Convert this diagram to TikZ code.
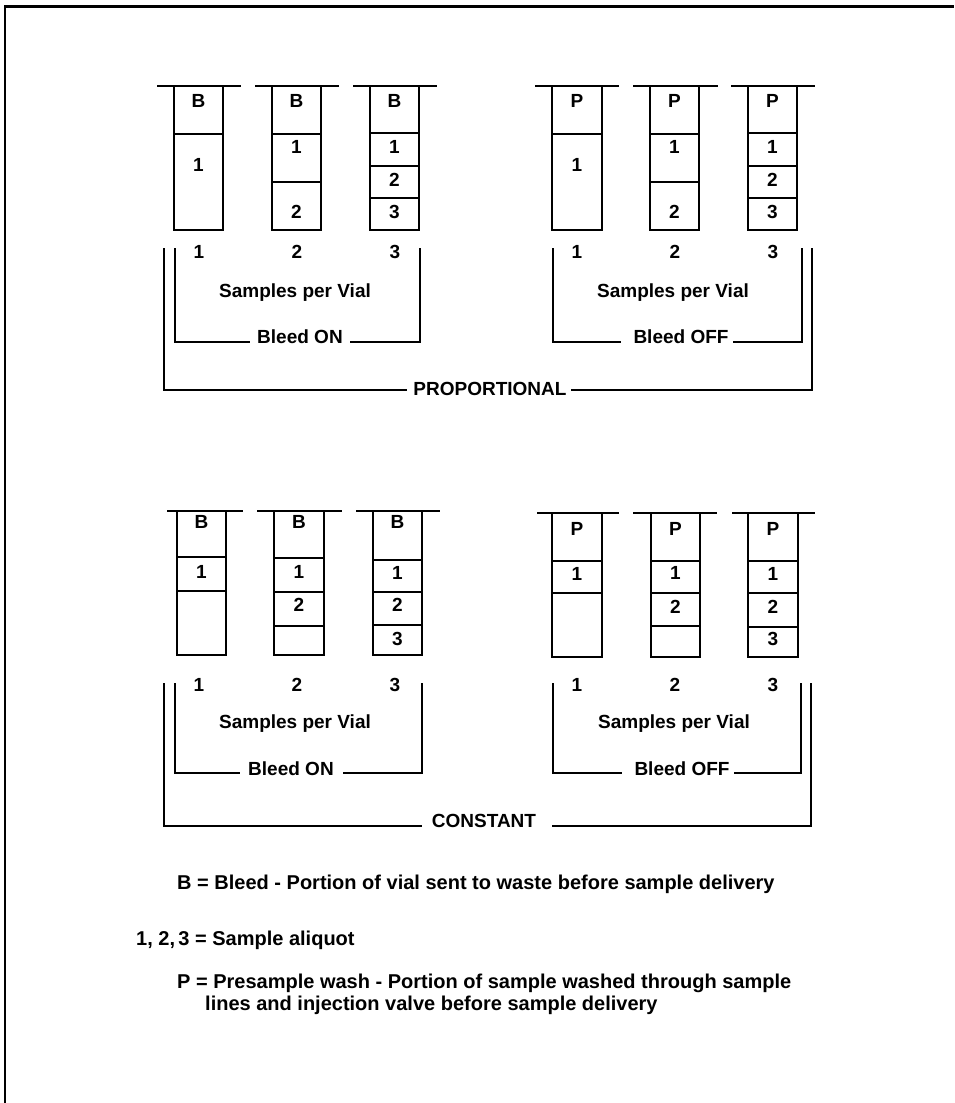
\documentclass[tikz,border=0pt]{standalone}
\usepackage{fontspec}
\setmainfont{Liberation Sans}
\usetikzlibrary{calc}
\newcommand\myvial[7]{%
  \draw[rimline] (#3,#5) -- (#4,#5);
  \draw[vialline] (#1,#5) -- (#1,#6) -- (#2,#6) -- (#2,#5);
  \foreach \d in {#7} {\draw[divline] (#1,\d) -- (#2,\d);}
}
\begin{document}
\begin{tikzpicture}[x=1pt,y=-1pt,
  lbl/.style={font=\fontsize{19}{23}\selectfont\bfseries, inner sep=0pt},
  leg/.style={font=\fontsize{20}{24}\selectfont\bfseries, inner sep=0pt, anchor=west},
  vialline/.style={line width=1.8pt},
  divline/.style={line width=1.4pt},
  rimline/.style={line width=1.8pt},
  brk/.style={line width=1.8pt},
  frameline/.style={line width=2.6pt}]
\useasboundingbox (0,0) rectangle (954,1103);
\draw[frameline] (5,1103) -- (5,6.5) -- (954,6.5);

% ---------- top left vials ----------
\myvial{174}{223}{157}{241}{86}{230}{134}
\myvial{272}{321}{255}{339}{86}{230}{134,182}
\myvial{370}{419}{353}{437}{86}{230}{133,166,198}
\node[lbl] (tla) at (198.5,101) {B};
\node[lbl] (tla1) at (198.5,165) {1};
\node[lbl] (tlb) at (296.5,101) {B};
\node[lbl] (tlb1) at (296.5,147) {1};
\node[lbl] (tlb2) at (296.5,212) {2};
\node[lbl] (tlc) at (394.5,101) {B};
\node[lbl] (tlc1) at (394.5,147) {1};
\node[lbl] (tlc2) at (394.5,180) {2};
\node[lbl] (tlc3) at (394.5,212) {3};

% ---------- top right vials ----------
\myvial{552}{602}{535}{619}{86}{230}{134}
\myvial{650}{699}{633}{718}{86}{230}{134,182}
\myvial{748}{797}{731}{815}{86}{230}{133,166,198}
\node[lbl] (tra) at (577,101) {P};
\node[lbl] (tra1) at (577,165) {1};
\node[lbl] (trb) at (674.5,101) {P};
\node[lbl] (trb1) at (674.5,147) {1};
\node[lbl] (trb2) at (674.5,212) {2};
\node[lbl] (trc) at (772.5,101) {P};
\node[lbl] (trc1) at (772.5,147) {1};
\node[lbl] (trc2) at (772.5,180) {2};
\node[lbl] (trc3) at (772.5,212) {3};

% numbers top
\node[lbl] (tn1) at (199,252) {1};
\node[lbl] (tn2) at (297,252) {2};
\node[lbl] (tn3) at (395,252) {3};
\node[lbl] (tn4) at (577,252) {1};
\node[lbl] (tn5) at (675,252) {2};
\node[lbl] (tn6) at (773,252) {3};

% brackets top
\node[lbl] (tspl) at (295,293) {Samples per Vial};
\node[lbl] (tspr) at (673,293) {Samples per Vial};
\node[lbl] (tbon) at (300,337) {Bleed ON};
\node[lbl] (tboff) at (681,337) {Bleed OFF};
\node[lbl] (tprop) at (490,389) {PROPORTIONAL};
\coordinate (tilA) at (175,248);
\coordinate (tilB) at (420,248);
\coordinate (tirA) at (553,248);
\coordinate (tirB) at (802,248);
\coordinate (toA) at (164,248);
\coordinate (toB) at (812,248);
\draw[brk] (tilA) |- ($(tbon.west)+(-7,5)$);
\draw[brk] (tilB) |- ($(tbon.east)+(7,5)$);
\draw[brk] (tirA) |- ($(tboff.west)+(-12,5)$);
\draw[brk] (tirB) |- ($(tboff.east)+(4,5)$);
\draw[brk] (toA) |- ($(tprop.west)+(-6,1)$);
\draw[brk] (toB) |- ($(tprop.east)+(4,1)$);

% ---------- bottom left vials ----------
\myvial{177}{226}{167}{243}{511}{655}{557,591}
\myvial{274}{324}{257}{342}{511}{655}{558,592,626}
\myvial{373}{422}{356}{440}{511}{655}{560,592,625}
\node[lbl] (bla) at (201.5,522) {B};
\node[lbl] (bla1) at (201.5,572) {1};
\node[lbl] (blb) at (299,522) {B};
\node[lbl] (blb1) at (299,572) {1};
\node[lbl] (blb2) at (299,605) {2};
\node[lbl] (blc) at (397.5,522) {B};
\node[lbl] (blc1) at (397.5,573) {1};
\node[lbl] (blc2) at (397.5,605) {2};
\node[lbl] (blc3) at (397.5,639) {3};

% ---------- bottom right vials ----------
\myvial{552}{602}{537}{619}{513}{657}{561,593}
\myvial{651}{700}{633}{717}{513}{657}{561,593,626}
\myvial{748}{798}{732}{815}{513}{657}{561,593,627}
\node[lbl] (bra) at (577,529) {P};
\node[lbl] (bra1) at (577,574) {1};
\node[lbl] (brb) at (675.5,529) {P};
\node[lbl] (brb1) at (675.5,573) {1};
\node[lbl] (brb2) at (675.5,607) {2};
\node[lbl] (brc) at (773,529) {P};
\node[lbl] (brc1) at (773,574) {1};
\node[lbl] (brc2) at (773,607) {2};
\node[lbl] (brc3) at (773,639) {3};

% numbers bottom
\node[lbl] (bn1) at (199,685) {1};
\node[lbl] (bn2) at (297,685) {2};
\node[lbl] (bn3) at (395,685) {3};
\node[lbl] (bn4) at (577,685) {1};
\node[lbl] (bn5) at (675,685) {2};
\node[lbl] (bn6) at (773,685) {3};

% brackets bottom
\node[lbl] (bspl) at (295,724) {Samples per Vial};
\node[lbl] (bspr) at (674,724) {Samples per Vial};
\node[lbl] (bbon) at (291,769) {Bleed ON};
\node[lbl] (bboff) at (682,769) {Bleed OFF};
\node[lbl] (bcon) at (484,821) {CONSTANT};
\coordinate (bilA) at (175,683);
\coordinate (bilB) at (422,683);
\coordinate (birA) at (553,683);
\coordinate (birB) at (801,683);
\coordinate (boA) at (164,683);
\coordinate (boB) at (811,683);
\draw[brk] (bilA) |- ($(bbon.west)+(-8,4)$);
\draw[brk] (bilB) |- ($(bbon.east)+(9,4)$);
\draw[brk] (birA) |- ($(bboff.west)+(-12,4)$);
\draw[brk] (birB) |- ($(bboff.east)+(4,4)$);
\draw[brk] (boA) |- ($(bcon.west)+(-10,5)$);
\draw[brk] (boB) |- ($(bcon.east)+(16,5)$);

% ---------- legend ----------
\node[leg] (legb) at (177,884) {B = Bleed - Portion of vial sent to waste before sample delivery};
\node[leg] (legn) at (136,940) {1, 2,\,3 = Sample aliquot};
\node[leg] (legp) at (177,983) {P = Presample wash - Portion of sample washed through sample};
\node[leg] (legp2) at (205,1005) {lines and injection valve before sample delivery};
\end{tikzpicture}
\end{document}
